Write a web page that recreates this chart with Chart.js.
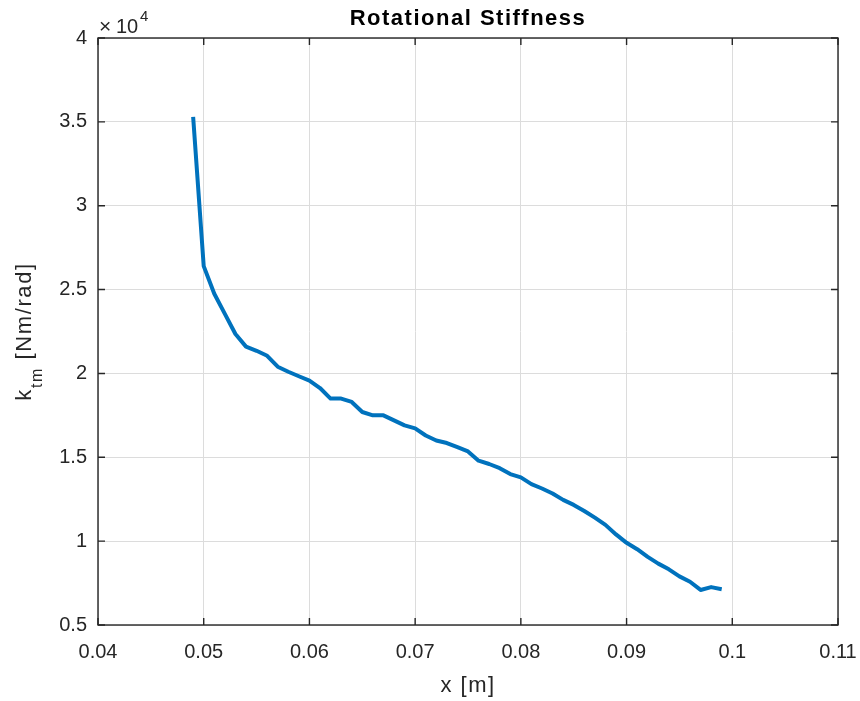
<!DOCTYPE html>
<html>
<head>
<meta charset="utf-8">
<script src="https://cdn.jsdelivr.net/npm/chart.js@4"></script>
<style>
  html, body { margin: 0; padding: 0; background: #fff; }
  #wrap { width: 860px; height: 701px; }
</style>
</head>
<body>
<div id="wrap"><canvas id="grafico" width="860" height="701"></canvas></div>
<script>
// datos (x en m, rigidez en Nm/rad)
const posiciones = [
  0.049, 0.050, 0.051, 0.052, 0.053, 0.054, 0.055, 0.056, 0.057, 0.058,
  0.059, 0.060, 0.061, 0.062, 0.063, 0.064, 0.065, 0.066, 0.067, 0.068,
  0.069, 0.070, 0.071, 0.072, 0.073, 0.074, 0.075, 0.076, 0.077, 0.078,
  0.079, 0.080, 0.081, 0.082, 0.083, 0.084, 0.085, 0.086, 0.087, 0.088,
  0.089, 0.090, 0.091, 0.092, 0.093, 0.094, 0.095, 0.096, 0.097, 0.098,
  0.099
];
const rigidez = [
  35300, 26400, 24750, 23550, 22350, 21600, 21350, 21050, 20400, 20100,
  19830, 19570, 19130, 18500, 18500, 18300, 17700, 17500, 17500, 17200,
  16900, 16720, 16300, 16000, 15850, 15600, 15350, 14800, 14600, 14350,
  14000, 13800, 13400, 13140, 12840, 12460, 12160, 11800, 11400, 10970,
  10400, 9900, 9520, 9060, 8660, 8320, 7900, 7580, 7090, 7260,
  7130
];
const titulo = 'Rotational Stiffness';
const etiquetaX = 'x [m]';
const escalaY = 1e4;

const fuente = 'Liberation Sans, Arial, Helvetica, sans-serif';
const colorEje = '#262626';

// caja tipo matlab: bordes, ticks hacia dentro, titulo y etiquetas
const cajaMatlab = {
  id: 'cajaMatlab',
  afterDraw(chart) {
    const { ctx, chartArea: a, scales: { x, y } } = chart;
    const largo = 7;
    ctx.save();
    ctx.strokeStyle = colorEje;
    ctx.lineWidth = 1.4;
    ctx.strokeRect(a.left, a.top, a.right - a.left, a.bottom - a.top);
    ctx.beginPath();
    x.ticks.forEach(t => {
      const px = x.getPixelForValue(t.value);
      ctx.moveTo(px, a.bottom); ctx.lineTo(px, a.bottom - largo);
      ctx.moveTo(px, a.top); ctx.lineTo(px, a.top + largo);
    });
    y.ticks.forEach(t => {
      const py = y.getPixelForValue(t.value);
      ctx.moveTo(a.left, py); ctx.lineTo(a.left + largo, py);
      ctx.moveTo(a.right, py); ctx.lineTo(a.right - largo, py);
    });
    ctx.stroke();

    ctx.fillStyle = '#000';
    ctx.textAlign = 'center';
    ctx.textBaseline = 'alphabetic';
    ctx.letterSpacing = '1.5px';
    ctx.font = 'bold 22px ' + fuente;
    ctx.fillText(titulo, (a.left + a.right) / 2, 25);

    ctx.fillStyle = colorEje;
    ctx.font = '22px ' + fuente;
    ctx.fillText(etiquetaX, (a.left + a.right) / 2, 692);

    // exponente x10^4
    ctx.letterSpacing = '0px';
    ctx.textAlign = 'left';
    ctx.font = '21px ' + fuente;
    ctx.fillText('\u00d7', a.left + 1, 33);
    ctx.font = '20px ' + fuente;
    ctx.fillText('10', a.left + 18, 33);
    ctx.font = '15px ' + fuente;
    ctx.fillText('4', a.left + 42, 21);

    // etiqueta y con subindice
    ctx.letterSpacing = '1.6px';
    ctx.translate(31, (a.top + a.bottom) / 2);
    ctx.rotate(-Math.PI / 2);
    ctx.font = '22px ' + fuente;
    const wk = ctx.measureText('k').width;
    const wr = ctx.measureText(' [Nm/rad]').width;
    ctx.font = '16px ' + fuente;
    const ws = ctx.measureText('tm').width;
    let cx = -(wk + ws + wr) / 2;
    ctx.font = '22px ' + fuente;
    ctx.fillText('k', cx, 0);
    cx += wk;
    ctx.font = '16px ' + fuente;
    ctx.fillText('tm', cx, 11);
    cx += ws;
    ctx.font = '22px ' + fuente;
    ctx.fillText(' [Nm/rad]', cx, 0);
    ctx.restore();
  }
};

new Chart(document.getElementById('grafico'), {
  type: 'line',
  data: {
    datasets: [{
      data: posiciones.map((p, i) => ({ x: p, y: rigidez[i] })),
      borderColor: '#0072BD',
      borderWidth: 4,
      pointRadius: 0,
      tension: 0,
      borderJoinStyle: 'round',
      fill: false
    }]
  },
  options: {
    responsive: false,
    animation: false,
    layout: { padding: { left: 38, right: 22, top: 38, bottom: 0 } },
    plugins: { legend: { display: false }, tooltip: { enabled: false } },
    scales: {
      x: {
        type: 'linear',
        min: 0.04, max: 0.11,
        afterFit: s => { s.height = 76; s.paddingLeft = 0; s.paddingRight = 0; },
        grid: { color: '#dcdcdc', lineWidth: 1, drawTicks: false },
        border: { display: false },
        ticks: {
          stepSize: 0.01,
          padding: 15,
          color: colorEje,
          font: { family: fuente, size: 20 },
          maxRotation: 0,
          callback: v => String(Number(v.toFixed(3)))
        }
      },
      y: {
        min: 5000, max: 40000,
        afterFit: s => { s.width = 60; s.paddingTop = 0; s.paddingBottom = 0; },
        grid: { color: '#dcdcdc', lineWidth: 1, drawTicks: false },
        border: { display: false },
        ticks: {
          stepSize: 5000,
          padding: 11,
          color: colorEje,
          font: { family: fuente, size: 20 },
          callback: v => String(Number((v / escalaY).toFixed(2)))
        }
      }
    }
  },
  plugins: [cajaMatlab]
});
</script>
</body>
</html>
